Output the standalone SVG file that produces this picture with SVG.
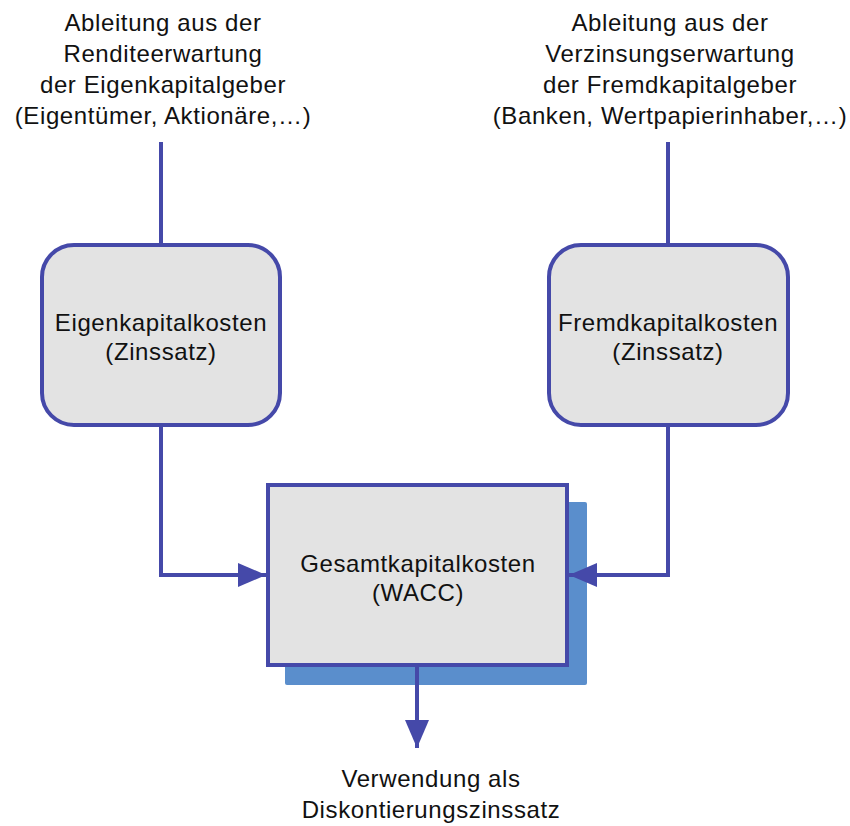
<svg xmlns="http://www.w3.org/2000/svg" width="850" height="826" viewBox="0 0 850 826">
  <defs>
    <style>
      .lbl { font-family: "Liberation Sans", Arial, sans-serif; font-size: 24px; fill: #111; text-anchor: middle; letter-spacing: 0.6px; }
      .edge { fill: none; stroke: #4549a9; stroke-width: 4; }
      .node { fill: #e3e3e3; stroke: #4549a9; stroke-width: 4; }
      .shadow { fill: #5a8ecc; }
    </style>
    <marker id="arrow" markerUnits="userSpaceOnUse" markerWidth="30" markerHeight="24" refX="28" refY="12" orient="auto">
      <path d="M0,0 L28,12 L0,24 Z" fill="#4549a9"/>
    </marker>
  </defs>

  <!-- source labels -->
  <g id="label-equity-source">
    <text class="lbl" x="163" y="31">Ableitung aus der</text>
    <text class="lbl" x="163" y="62">Renditeerwartung</text>
    <text class="lbl" x="163" y="93">der Eigenkapitalgeber</text>
    <text class="lbl" x="163" y="124">(Eigentümer, Aktionäre,…)</text>
  </g>
  <g id="label-debt-source">
    <text class="lbl" x="670" y="31">Ableitung aus der</text>
    <text class="lbl" x="670" y="62">Verzinsungserwartung</text>
    <text class="lbl" x="670" y="93">der Fremdkapitalgeber</text>
    <text class="lbl" x="670" y="124">(Banken, Wertpapierinhaber,…)</text>
  </g>

  <!-- nodes -->
  <g id="equity-cost">
    <rect class="node" x="42" y="245" width="238" height="180" rx="32" ry="32"/>
    <text class="lbl" x="161" y="331">Eigenkapitalkosten</text>
    <text class="lbl" x="161" y="360">(Zinssatz)</text>
  </g>
  <g id="debt-cost">
    <rect class="node" x="549" y="245" width="239" height="180" rx="32" ry="32"/>
    <text class="lbl" x="668" y="331">Fremdkapitalkosten</text>
    <text class="lbl" x="668" y="360">(Zinssatz)</text>
  </g>
  <g id="wacc">
    <rect class="shadow" x="285" y="502" width="302" height="183" rx="2"/>
    <rect class="node" x="268" y="485" width="299" height="180"/>
    <text class="lbl" x="418" y="572">Gesamtkapitalkosten</text>
    <text class="lbl" x="418" y="601">(WACC)</text>
  </g>

  <!-- usage label -->
  <g id="label-usage">
    <text class="lbl" x="431" y="787">Verwendung als</text>
    <text class="lbl" x="431" y="818">Diskontierungszinssatz</text>
  </g>

  <!-- connectors, drawn last so arrowheads sit on top of the shadow -->
  <g id="connectors">
    <path class="edge" d="M161,142 V243"/>
    <path class="edge" d="M668,142 V243"/>
    <path class="edge" d="M161,427 V575 H266" marker-end="url(#arrow)"/>
    <path class="edge" d="M668,427 V575 H569" marker-end="url(#arrow)"/>
    <path class="edge" d="M417,667 V748" marker-end="url(#arrow)"/>
  </g>
</svg>
